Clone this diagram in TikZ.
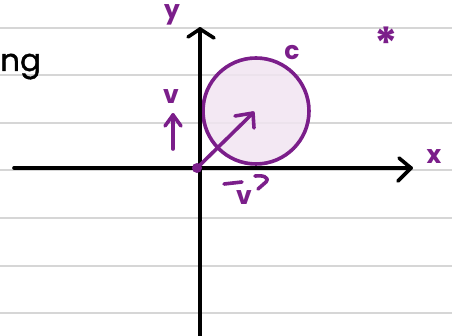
\documentclass[tikz,border=0pt]{standalone}
\usepackage{fontspec}
\setmainfont{Poppins}
\usetikzlibrary{calc}
\definecolor{pen}{HTML}{7B1E8A}
\definecolor{penfill}{HTML}{F1E5F1}
\definecolor{rule}{HTML}{D6D6D6}
\tikzset{
  rulel/.style={rule, line width=1.3pt},
  axis/.style={black, line width=3.6pt, line cap=round, line join=round},
  ink/.style={pen, line width=3.6pt, line cap=round, line join=round},
  lbl/.style={pen, font=\fontsize{25}{25}\selectfont\bfseries, inner sep=0pt},
}
\begin{document}
\begin{tikzpicture}[x=1pt,y=-1pt]
\useasboundingbox (0,0) rectangle (452,336);
\clip (0,0) rectangle (452,336);
\fill[white] (0,0) rectangle (452,336);
% ruled lines
\foreach \yy in {28,75,123,170,218,266,313} \draw[rulel] (0,\yy) -- (452,\yy);
% text at left
\node[anchor=base west, inner sep=0pt, font=\fontsize{31}{31}\selectfont\addfontfeatures{FakeBold=1.2}] (ng) at (0,71) {ng};
% circle
\node[circle, draw=pen, fill=penfill, fill opacity=0.85, line width=3.6pt, minimum size=106pt, inner sep=0pt] (C) at (256,111) {};
% axes
\coordinate (xl) at (14,168);
\coordinate (xr) at (411,168);
\coordinate (yb) at (200,336);
\coordinate (yt) at (200,29);
\draw[axis] (xl) -- (xr);
\draw[axis] ($(xr)+(-12,-10)$) -- (xr) -- ($(xr)+(-13,13)$);
\draw[axis] (yb) -- (yt);
\draw[axis] ($(yt)+(-12,8)$) -- (yt) -- ($(yt)+(14,9)$);
% vector from origin
\coordinate (O) at (197,168);
\coordinate (P) at (253,113);
\draw[ink] (O) -- (P);
\draw[ink] ($(P)+(-18,3)$) -- (P) -- ($(P)+(1,15)$);
\fill[pen] (O) circle (5);
% labels
\node[lbl] (ylab) at (172,15) {y};
\node[lbl] (clab) at (292,53) {c};
\node[lbl, font=\fontsize{44}{44}\selectfont\bfseries] (star) at (386,43) {*};
\node[lbl] (xlab) at (434,157) {x};
% v with up arrow
\node[lbl] (vup) at (171,97) {v};
\coordinate (ua) at (173,149);
\coordinate (ub) at (173,115);
\draw[ink] (ua) -- (ub);
\draw[ink] ($(ub)+(-8,11)$) -- (ub) -- ($(ub)+(8,11)$);
% v with arrow below
\node[lbl] (vdn) at (244,198) {v};
\coordinate (da) at (224,184);
\coordinate (db) at (242,182);
\draw[ink] (da) -- (db);
\draw[ink] (255,176) .. controls (262,175) and (270,177) .. (266,182) -- (258,189);
\end{tikzpicture}
\end{document}
